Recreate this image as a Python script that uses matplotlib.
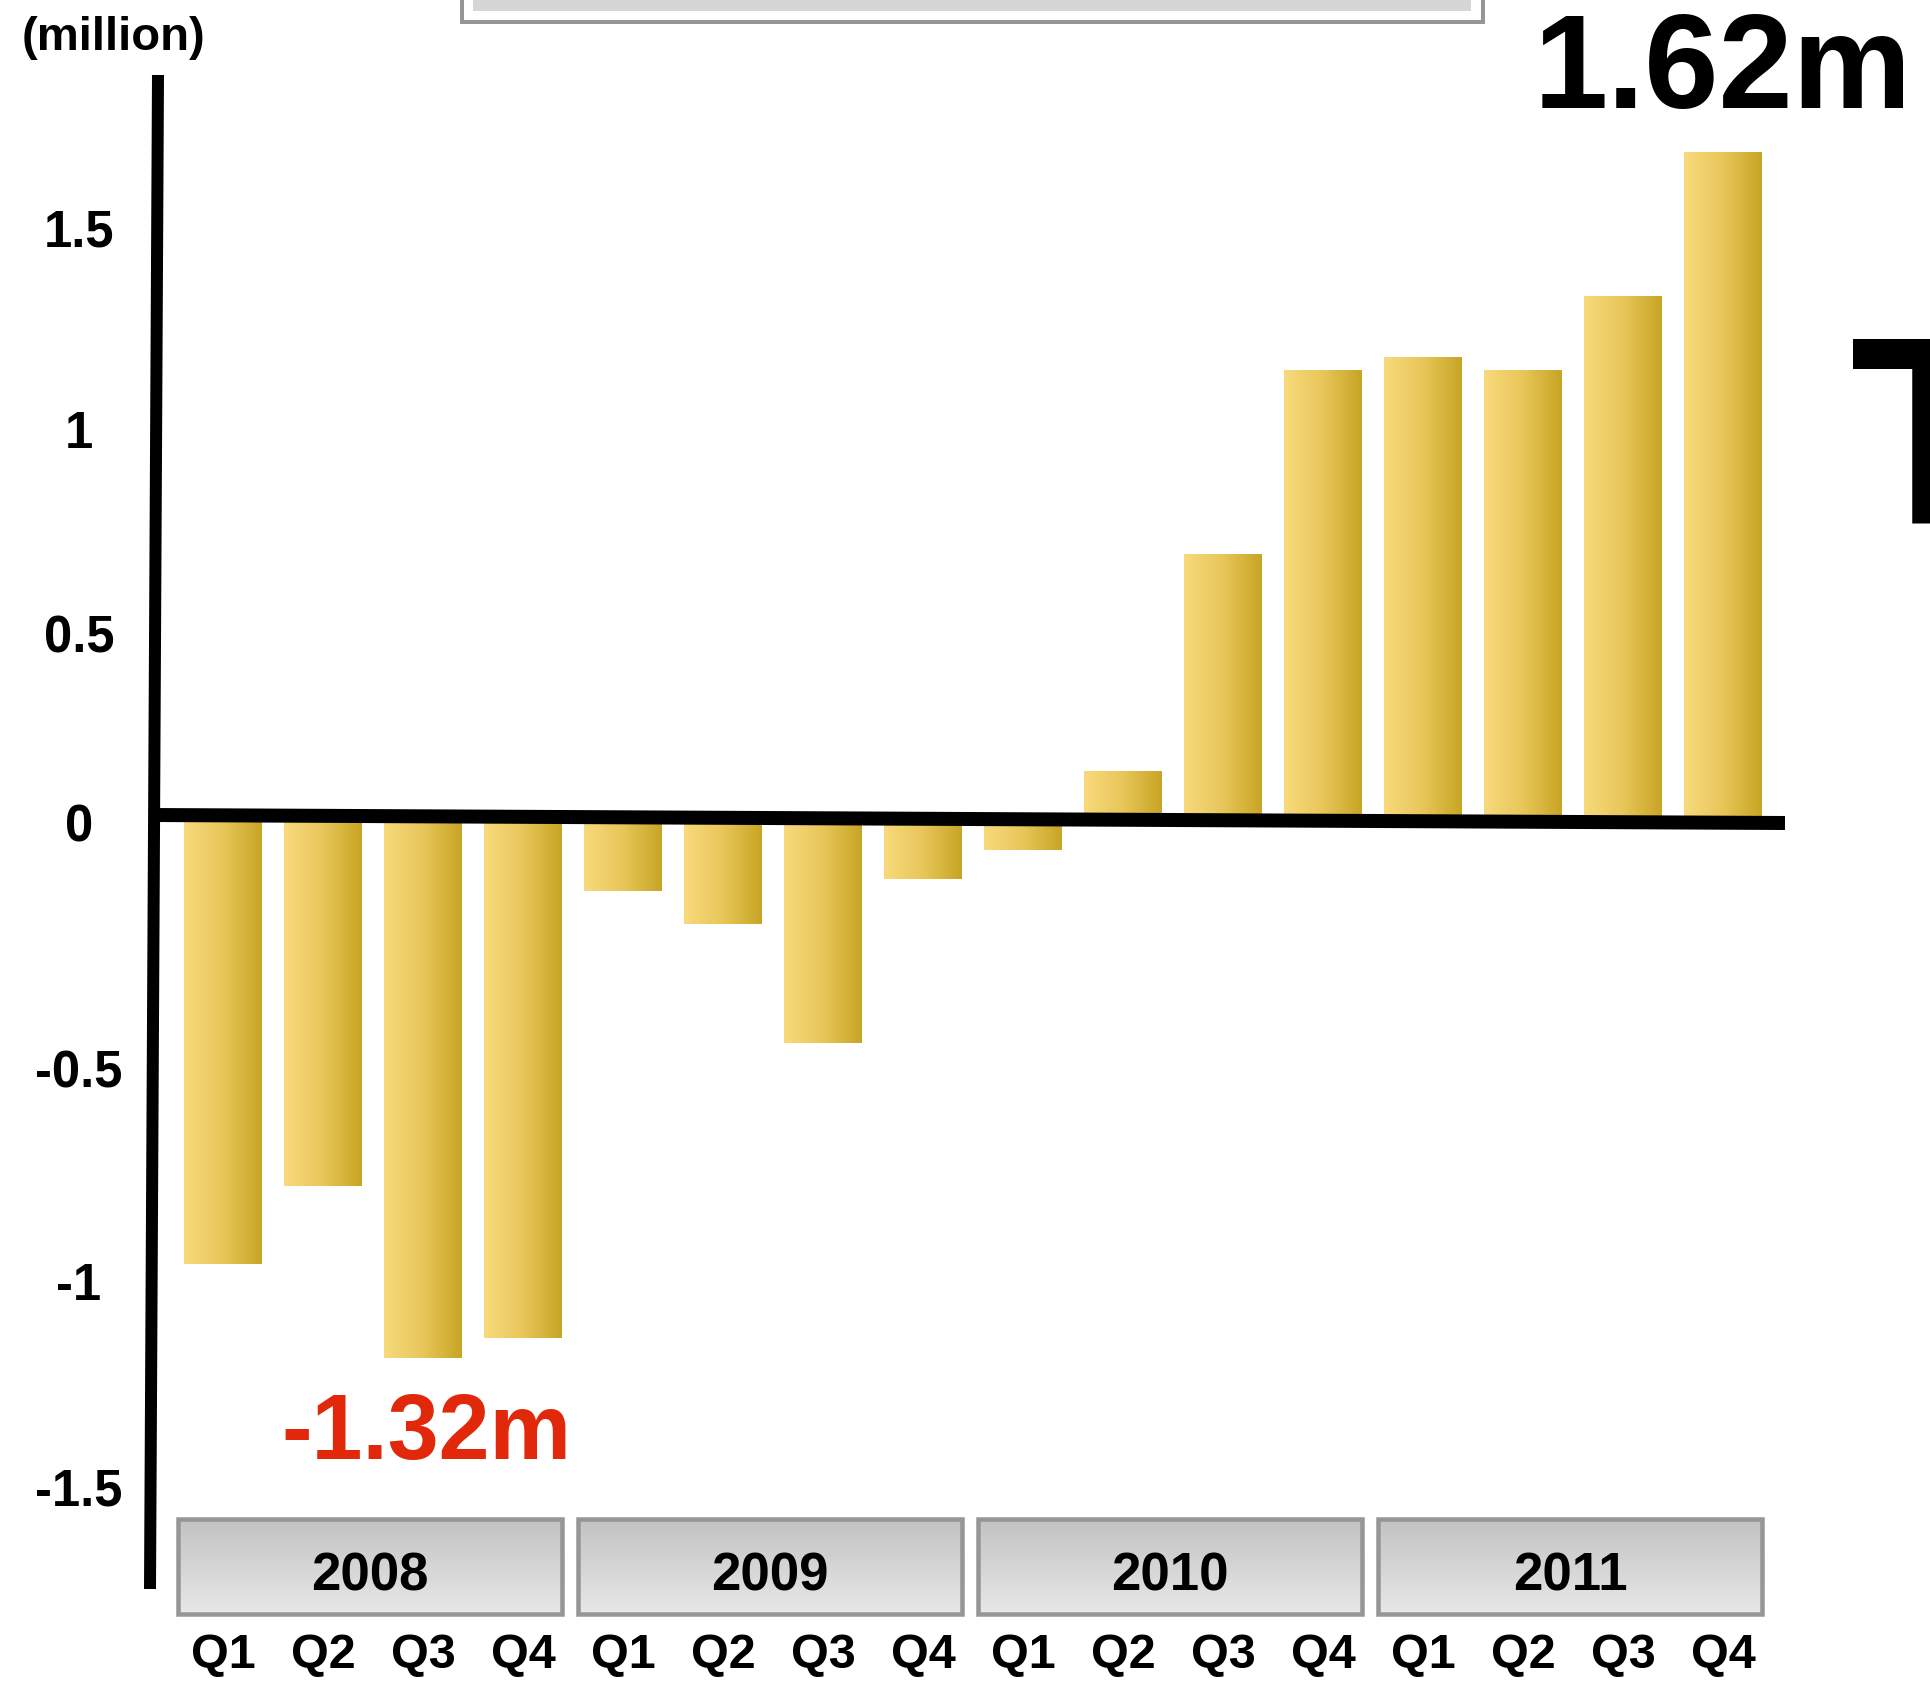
import numpy as np
import matplotlib
matplotlib.use('Agg')
import matplotlib.pyplot as plt
from matplotlib.patches import Rectangle
from matplotlib.colors import LinearSegmentedColormap

# ---------------- data ----------------
years = ['2008', '2009', '2010', '2011']
quarters = ['Q1', 'Q2', 'Q3', 'Q4']
values = [-1.09, -0.90, -1.32, -1.27,
          -0.18, -0.26, -0.55, -0.15,
          -0.08, 0.11, 0.64, 1.09,
          1.12, 1.09, 1.27, 1.62]
ytick_labels = ['1.5', '1', '0.5', '0', '-0.5', '-1', '-1.5']
ytick_label_pos = [1.44, 0.95, 0.45, -0.01, -0.61, -1.13, -1.63]
unit_label = '(million)'

# ---------------- figure geometry (pixels) ----------------
W, H, DPI = 1930, 1690, 100
x0_px, pitch_px = 223, 100        # first bar centre, bar pitch
zero_px, unit_px = 818, 410       # y of zero, pixels per million
ax_left_px, ax_bottom_px = 155, 1620
PT = 72.0 / DPI                   # points per pixel

plt.rcParams['font.family'] = ['Liberation Sans', 'DejaVu Sans']
plt.rcParams['font.weight'] = 'bold'

fig = plt.figure(figsize=(W / DPI, H / DPI), dpi=DPI)
fig.patch.set_facecolor('white')

ax = fig.add_axes([ax_left_px / W, (H - ax_bottom_px) / H,
                   (W - ax_left_px) / W, ax_bottom_px / H])
xlim = ((ax_left_px - x0_px) / pitch_px, (W - x0_px) / pitch_px)
ylim = ((zero_px - ax_bottom_px) / unit_px, zero_px / unit_px)


def px_x(p):
    return (p - x0_px) / pitch_px


def px_y(p):
    return (zero_px - p) / unit_px


# ---------------- bars with horizontal gold gradient ----------------
n = len(values)
xs = np.arange(n)
bars = ax.bar(xs, values, width=0.78, color='none', edgecolor='none')
gold = LinearSegmentedColormap.from_list('gold', ['#f8da7c', '#e8c65a', '#c8a524'])
grad = np.linspace(0, 1, 256).reshape(1, -1)
for b in bars:
    x, y, w, h = b.get_x(), b.get_y(), b.get_width(), b.get_height()
    lo, hi = min(y, y + h), max(y, y + h)
    ax.imshow(grad, cmap=gold, extent=(x, x + w, lo, hi), aspect='auto',
              interpolation='bilinear', zorder=2)

# ---------------- axis lines (slightly hand-drawn tilt) ----------------
ax.plot([px_x(158), px_x(150)], [px_y(76), px_y(1590)], color='black',
        lw=12 * PT, solid_capstyle='butt', clip_on=False, zorder=6)
ax.plot([px_x(152), px_x(1785)], [px_y(816), px_y(824)], color='black',
        lw=14 * PT, solid_capstyle='butt', clip_on=False, zorder=6)

# ---------------- year boxes ----------------
box_grad = np.linspace(0, 1, 256).reshape(-1, 1)
grey = LinearSegmentedColormap.from_list('grey', ['#c2c2c2', '#e8e8e8'])
yb_top, yb_bot = px_y(1520), px_y(1615)
for k, yr in enumerate(years):
    left, right = 4 * k - 0.45, 4 * k + 3.39
    ax.imshow(box_grad, cmap=grey, extent=(left, right, yb_bot, yb_top),
              aspect='auto', interpolation='bilinear', zorder=3, clip_on=False)
    ax.add_patch(Rectangle((left, yb_bot), right - left, yb_top - yb_bot,
                           facecolor='none', edgecolor='#969696', lw=4.5 * PT,
                           zorder=4, clip_on=False))
    ax.text((left + right) / 2, px_y(1591), yr, ha='center', va='baseline',
            fontsize=38, fontweight='bold', color='black', zorder=5)

# ---------------- ticks ----------------
ax.set_xticks(xs, quarters * len(years))
ax.set_yticks(ytick_label_pos, ytick_labels)
ax.tick_params(axis='x', length=0, pad=13 * PT, labelsize=35)
ax.tick_params(axis='y', length=0, pad=76 * PT, labelsize=36.5)
for t in ax.get_yticklabels():
    t.set_ha('center')
for s in ax.spines.values():
    s.set_visible(False)
ax.patch.set_alpha(0)
ax.set_xlim(xlim)
ax.set_ylim(ylim)

# ---------------- annotations ----------------
i_min, i_max = int(np.argmin(values)), int(np.argmax(values))
ax.text(i_min + 0.03, values[i_min] - 100 / unit_px, f'{values[i_min]:.2f}m',
        ha='center', va='baseline', fontsize=66, fontweight='bold',
        color='#e2280a', zorder=6)
ax.text(i_max + 0.0, values[i_max] + 46 / unit_px, f'{values[i_max]:.2f}m',
        ha='center', va='baseline', fontsize=96, fontweight='bold',
        color='black', zorder=6, clip_on=False)

# ---------------- overlay decorations in pixel space ----------------
ov = fig.add_axes([0, 0, 1, 1], zorder=10)
ov.set_xlim(0, W)
ov.set_ylim(H, 0)
ov.axis('off')
ov.patch.set_alpha(0)
ov.text(113, 38, unit_label, ha='center', va='center', fontsize=34,
        fontweight='bold')
ov.add_patch(Rectangle((462, -20), 1483 - 462, 43, facecolor='white',
                       edgecolor='#969696', lw=4 * PT))
ov.add_patch(Rectangle((473, -20), 1471 - 473, 32, facecolor='#d6d6d6',
                       edgecolor='none'))
ov.text(1850, 523, 'T', ha='left', va='baseline', fontsize=192,
        fontweight='bold', color='black')

fig.savefig('out.png', dpi=DPI, facecolor='white')
